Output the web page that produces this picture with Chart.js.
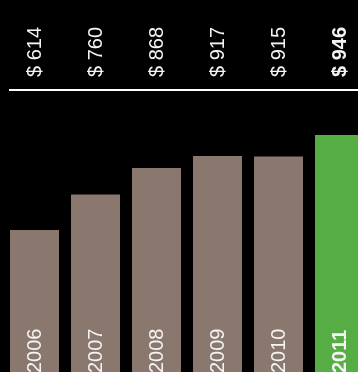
<!DOCTYPE html>
<html>
<head>
<meta charset="utf-8">
<script src="https://cdn.jsdelivr.net/npm/chart.js@4/dist/chart.umd.min.js"></script>
<style>
  html, body { margin: 0; padding: 0; background: #000; overflow: hidden; }
  #wrap { width: 370px; height: 380px; }
</style>
</head>
<body>
<div id="wrap"><canvas id="chart"></canvas></div>
<script>
// Dados do gráfico
const years = ['2006', '2007', '2008', '2009', '2010', '2011'];
const values = [614, 760, 868, 917, 915, 946];
// destaque do último ano (a barra verde é desenhada mais alta)
const emphasis = [0, 0, 0, 0, 0, 57];
const highlightIndex = 5;

const brown = '#8a786e';
const green = '#56ad43';
const barColors = values.map((v, i) => i === highlightIndex ? green : brown);

// Rótulos de valor (topo) e anos (dentro das barras)
const labelsPlugin = {
    id: 'labels',
    afterDatasetsDraw(chart) {
        const ctx = chart.ctx;
        const meta = chart.getDatasetMeta(0);
        const x = chart.scales.x;
        ctx.save();

        // linha branca abaixo dos valores
        const first = meta.data[0];
        ctx.strokeStyle = '#ffffff';
        ctx.lineWidth = 2;
        ctx.beginPath();
        ctx.moveTo(first.x - first.width / 2 - 1, 90);
        ctx.lineTo(chart.width, 90);
        ctx.stroke();

        ctx.fillStyle = '#f4f4f4';
        ctx.textAlign = 'left';
        ctx.textBaseline = 'middle';
        values.forEach((v, i) => {
            const px = x.getPixelForValue(i) + 1;
            const bold = i === highlightIndex ? 'bold ' : '';
            ctx.font = bold + '20px "Liberation Sans", Arial, sans-serif';

            ctx.save();
            ctx.translate(px, 77);
            ctx.rotate(-Math.PI / 2);
            ctx.fillText('$ ' + v, 0, 0);
            ctx.restore();

            ctx.save();
            ctx.translate(px, 373);
            ctx.rotate(-Math.PI / 2);
            ctx.fillText(years[i], 0, 0);
            ctx.restore();
        });
        ctx.restore();
    }
};

const config = {
    type: 'bar',
    data: {
        labels: years,
        datasets: [{
            label: 'Valor',
            data: values,
            backgroundColor: barColors,
            borderWidth: 0,
            barPercentage: 0.803,
            categoryPercentage: 1
        }, {
            label: 'Destaque',
            data: emphasis,
            backgroundColor: green,
            borderWidth: 0,
            barPercentage: 0.803,
            categoryPercentage: 1
        }]
    },
    options: {
        responsive: true,
        maintainAspectRatio: false,
        animation: false,
        layout: { padding: { left: 4, right: 0, top: 0, bottom: 0 } },
        plugins: {
            legend: { display: false },
            tooltip: { enabled: false }
        },
        scales: {
            x: { display: false, stacked: true },
            y: { display: false, stacked: true, min: 0, max: 1556 }
        }
    },
    plugins: [labelsPlugin]
};

new Chart(document.getElementById('chart'), config);
</script>
</body>
</html>
